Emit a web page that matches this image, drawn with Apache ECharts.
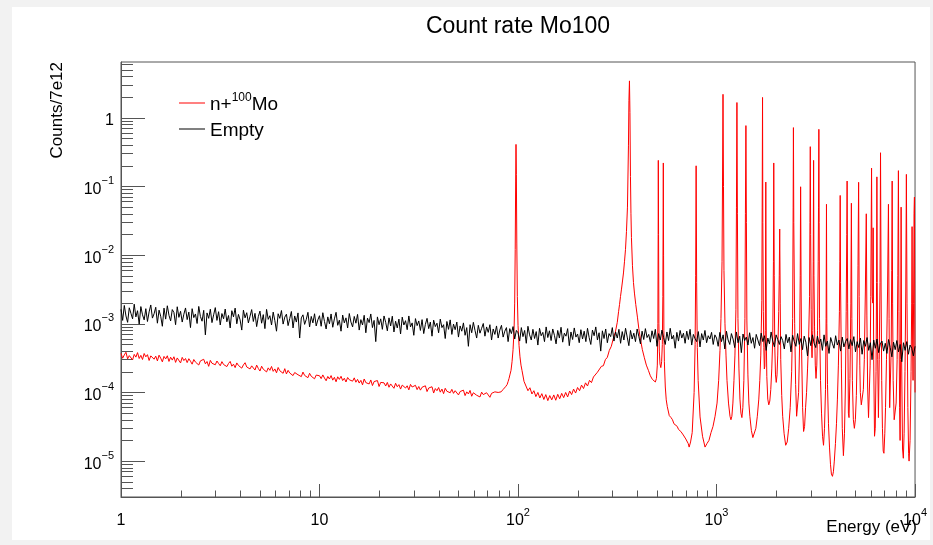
<!DOCTYPE html>
<html><head><meta charset="utf-8">
<script src="https://cdn.jsdelivr.net/npm/echarts@6/dist/echarts.min.js"></script>
<style>
html,body{margin:0;padding:0;background:#f2f2f2;width:933px;height:545px;overflow:hidden}
#c{position:absolute;left:12px;top:7px;width:918px;height:533px;background:#fff}
</style></head><body><div id="c"></div>
<script>
// ---------- text ----------
const titleText = 'Count rate Mo100';
const xTitle = 'Energy (eV)';
const yTitle = 'Counts/7e12';
const seriesNames = ['n+100Mo', 'Empty'];

// ---------- axes ----------
const xRange = [1, 10000];
const yRange = [3.0e-6, 6.5];
const xMajorTicks = [1, 10, 100, 1000, 10000];
const yMajorTicks = [1e-5, 1e-4, 1e-3, 1e-2, 1e-1, 1];
const minorMultipliers = [2, 3, 4, 5, 6, 7, 8, 9];

// ---------- data ----------
// "Empty": 120 bins per decade from 1 eV, bins 0..480 (1 eV .. 10 keV)
const emptyBinsPerDecade = 120;
const emptyRate = [
1.62e-3,1.12e-3,1.85e-3,1.30e-3,1.05e-3,1.71e-3,1.42e-3,1.18e-3,1.93e-3,1.26e-3,1.55e-3,0.99e-3,1.78e-3,1.35e-3,1.14e-3,1.66e-3,1.08e-3,1.49e-3,1.88e-3,1.21e-3,
1.40e-3,1.74e-3,1.02e-3,1.58e-3,1.29e-3,0.92e-3,1.69e-3,1.17e-3,1.83e-3,1.33e-3,1.10e-3,1.61e-3,1.46e-3,0.97e-3,1.77e-3,1.24e-3,1.52e-3,1.06e-3,1.38e-3,1.70e-3,
1.15e-3,1.48e-3,0.88e-3,1.66e-3,1.23e-3,1.39e-3,1.01e-3,1.79e-3,1.28e-3,1.09e-3,1.57e-3,0.69e-3,1.44e-3,1.20e-3,1.63e-3,1.04e-3,1.35e-3,1.72e-3,1.12e-3,1.50e-3,
0.96e-3,1.41e-3,1.18e-3,1.64e-3,1.07e-3,1.32e-3,0.87e-3,1.55e-3,1.26e-3,1.69e-3,1.00e-3,1.37e-3,1.14e-3,0.81e-3,1.58e-3,1.22e-3,1.45e-3,1.03e-3,1.29e-3,1.61e-3,
1.08e-3,1.42e-3,0.91e-3,1.27e-3,1.53e-3,1.02e-3,1.36e-3,0.85e-3,1.62e-3,1.16e-3,1.31e-3,0.96e-3,1.48e-3,1.11e-3,0.78e-3,1.40e-3,1.20e-3,1.56e-3,0.99e-3,1.25e-3,
1.38e-3,0.94e-3,1.19e-3,1.51e-3,0.87e-3,1.30e-3,1.06e-3,1.44e-3,0.62e-3,1.22e-3,1.35e-3,0.98e-3,1.16e-3,1.47e-3,0.90e-3,1.28e-3,1.03e-3,1.40e-3,0.93e-3,1.14e-3,
1.31e-3,0.92e-3,1.45e-3,1.08e-3,0.84e-3,1.26e-3,1.00e-3,1.39e-3,0.89e-3,1.18e-3,1.47e-3,0.95e-3,1.13e-3,0.78e-3,1.34e-3,1.03e-3,1.22e-3,0.87e-3,1.41e-3,1.06e-3,
0.90e-3,1.28e-3,1.02e-3,1.37e-3,0.81e-3,1.15e-3,0.96e-3,1.33e-3,0.74e-3,1.21e-3,1.04e-3,1.39e-3,0.88e-3,1.12e-3,0.55e-3,1.26e-3,0.97e-3,1.18e-3,0.83e-3,1.30e-3,
1.05e-3,0.79e-3,1.22e-3,0.93e-3,1.29e-3,0.76e-3,1.09e-3,0.87e-3,1.17e-3,0.71e-3,1.25e-3,0.96e-3,1.11e-3,0.82e-3,1.30e-3,0.90e-3,1.03e-3,0.68e-3,1.19e-3,0.94e-3,
1.10e-3,0.80e-3,1.15e-3,0.72e-3,0.98e-3,1.20e-3,0.85e-3,1.06e-3,0.66e-3,1.13e-3,0.91e-3,1.02e-3,0.74e-3,1.17e-3,0.88e-3,0.97e-3,0.61e-3,1.08e-3,0.83e-3,1.14e-3,
0.70e-3,0.99e-3,0.82e-3,1.06e-3,0.64e-3,0.93e-3,0.78e-3,1.03e-3,0.68e-3,0.88e-3,0.47e-3,0.97e-3,0.74e-3,1.05e-3,0.80e-3,0.62e-3,0.95e-3,0.73e-3,0.86e-3,1.01e-3,
0.66e-3,0.90e-3,0.75e-3,0.97e-3,0.58e-3,0.84e-3,0.70e-3,0.93e-3,0.62e-3,0.81e-3,0.95e-3,0.64e-3,0.78e-3,0.88e-3,0.55e-3,0.85e-3,0.72e-3,0.91e-3,0.60e-3,0.80e-3,
0.74e-3,0.56e-3,0.88e-3,0.65e-3,0.80e-3,0.52e-3,0.92e-3,0.69e-3,0.58e-3,0.83e-3,0.61e-3,0.77e-3,0.49e-3,0.86e-3,0.67e-3,0.75e-3,0.55e-3,0.90e-3,0.63e-3,0.79e-3,
0.57e-3,0.84e-3,0.68e-3,0.51e-3,0.80e-3,0.62e-3,0.89e-3,0.54e-3,0.73e-3,0.66e-3,0.85e-3,0.48e-3,0.76e-3,0.59e-3,0.87e-3,0.64e-3,0.71e-3,0.53e-3,0.82e-3,0.60e-3,
0.78e-3,0.55e-3,0.86e-3,0.63e-3,0.50e-3,0.81e-3,0.67e-3,0.90e-3,0.58e-3,0.74e-3,0.40e-3,0.79e-3,0.61e-3,0.84e-3,0.53e-3,0.72e-3,0.65e-3,0.88e-3,0.56e-3,0.76e-3,
0.62e-3,0.83e-3,0.52e-3,0.77e-3,0.58e-3,0.86e-3,0.64e-3,0.48e-3,0.80e-3,0.60e-3,0.73e-3,0.55e-3,0.84e-3,0.66e-3,0.51e-3,0.78e-3,0.59e-3,0.85e-3,0.63e-3,0.70e-3,
0.54e-3,0.79e-3,0.61e-3,0.83e-3,0.47e-3,0.72e-3,0.58e-3,0.81e-3,0.63e-3,0.50e-3,0.76e-3,0.57e-3,0.86e-3,0.60e-3,0.68e-3,0.44e-3,0.75e-3,0.56e-3,0.80e-3,0.62e-3,
0.73e-3,0.52e-3,0.78e-3,0.59e-3,0.83e-3,0.49e-3,0.70e-3,0.61e-3,0.55e-3,0.77e-3,0.46e-3,0.72e-3,0.58e-3,0.80e-3,0.53e-3,0.67e-3,0.60e-3,0.75e-3,0.50e-3,0.69e-3,
0.62e-3,0.47e-3,0.75e-3,0.55e-3,0.69e-3,0.43e-3,0.78e-3,0.58e-3,0.50e-3,0.72e-3,0.60e-3,0.45e-3,0.76e-3,0.53e-3,0.66e-3,0.38e-3,0.71e-3,0.57e-3,0.64e-3,0.49e-3,
0.74e-3,0.52e-3,0.63e-3,0.44e-3,0.70e-3,0.58e-3,0.48e-3,0.73e-3,0.55e-3,0.67e-3,0.41e-3,0.62e-3,0.51e-3,0.76e-3,0.56e-3,0.46e-3,0.69e-3,0.59e-3,0.50e-3,0.65e-3,
0.57e-3,0.43e-3,0.70e-3,0.53e-3,0.64e-3,0.39e-3,0.68e-3,0.55e-3,0.47e-3,0.72e-3,0.50e-3,0.61e-3,0.42e-3,0.66e-3,0.54e-3,0.34e-3,0.63e-3,0.48e-3,0.69e-3,0.52e-3,
0.45e-3,0.66e-3,0.51e-3,0.60e-3,0.41e-3,0.69e-3,0.47e-3,0.56e-3,0.37e-3,0.63e-3,0.52e-3,0.44e-3,0.67e-3,0.49e-3,0.58e-3,0.40e-3,0.64e-3,0.46e-3,0.55e-3,0.61e-3,
0.43e-3,0.59e-3,0.48e-3,0.65e-3,0.39e-3,0.55e-3,0.45e-3,0.62e-3,0.36e-3,0.57e-3,0.47e-3,0.63e-3,0.41e-3,0.53e-3,0.30e-3,0.58e-3,0.44e-3,0.60e-3,0.38e-3,0.51e-3,
0.56e-3,0.40e-3,0.52e-3,0.37e-3,0.59e-3,0.45e-3,0.33e-3,0.54e-3,0.42e-3,0.57e-3,0.39e-3,0.50e-3,0.28e-3,0.53e-3,0.41e-3,0.55e-3,0.36e-3,0.49e-3,0.44e-3,0.34e-3,0.47e-3
];

// n+100Mo: 120 bins per decade from 1 eV, bins 0..228 (1 eV .. ~80 eV)
const moBinsPerDecade = 120;
const moLowRate = [
3.70e-4,3.15e-4,3.52e-4,3.85e-4,3.08e-4,3.44e-4,3.66e-4,2.98e-4,3.58e-4,3.27e-4,3.80e-4,3.12e-4,3.47e-4,3.02e-4,3.69e-4,3.30e-4,3.55e-4,2.92e-4,3.41e-4,3.63e-4,
3.05e-4,3.38e-4,2.88e-4,3.49e-4,3.16e-4,2.79e-4,3.35e-4,3.08e-4,3.42e-4,2.83e-4,3.26e-4,2.96e-4,3.31e-4,2.74e-4,3.18e-4,3.02e-4,2.69e-4,3.24e-4,2.91e-4,3.12e-4,
2.72e-4,3.10e-4,2.85e-4,2.58e-4,3.02e-4,2.77e-4,2.95e-4,2.51e-4,2.88e-4,2.70e-4,3.04e-4,2.61e-4,2.82e-4,2.40e-4,2.93e-4,2.66e-4,2.79e-4,2.53e-4,2.87e-4,2.64e-4,
2.45e-4,2.81e-4,2.55e-4,2.72e-4,2.38e-4,2.64e-4,2.83e-4,2.41e-4,2.58e-4,2.30e-4,2.69e-4,2.47e-4,2.60e-4,2.26e-4,2.52e-4,2.71e-4,2.35e-4,2.49e-4,2.20e-4,2.44e-4,
2.36e-4,2.12e-4,2.50e-4,2.24e-4,2.05e-4,2.41e-4,2.18e-4,2.33e-4,1.99e-4,2.28e-4,2.10e-4,2.39e-4,2.03e-4,2.20e-4,1.93e-4,2.31e-4,2.07e-4,2.15e-4,1.90e-4,2.22e-4,
1.86e-4,2.10e-4,1.92e-4,2.02e-4,1.76e-4,1.95e-4,2.08e-4,1.81e-4,1.89e-4,1.70e-4,1.98e-4,1.77e-4,1.85e-4,1.64e-4,1.90e-4,1.72e-4,1.81e-4,1.58e-4,1.79e-4,1.68e-4,
1.75e-4,1.59e-4,1.80e-4,1.62e-4,1.48e-4,1.71e-4,1.57e-4,1.76e-4,1.51e-4,1.66e-4,1.43e-4,1.69e-4,1.55e-4,1.72e-4,1.49e-4,1.61e-4,1.42e-4,1.65e-4,1.53e-4,1.58e-4,
1.46e-4,1.63e-4,1.41e-4,1.55e-4,1.37e-4,1.50e-4,1.29e-4,1.57e-4,1.39e-4,1.47e-4,1.33e-4,1.52e-4,1.26e-4,1.44e-4,1.35e-4,1.49e-4,1.22e-4,1.40e-4,1.31e-4,1.38e-4,
1.24e-4,1.40e-4,1.19e-4,1.33e-4,1.27e-4,1.15e-4,1.36e-4,1.21e-4,1.30e-4,1.12e-4,1.28e-4,1.34e-4,1.16e-4,1.25e-4,1.09e-4,1.31e-4,1.20e-4,1.14e-4,1.27e-4,1.10e-4,
1.22e-4,1.08e-4,1.19e-4,1.13e-4,1.25e-4,1.03e-4,1.16e-4,1.10e-4,1.21e-4,0.98e-4,1.14e-4,1.06e-4,1.18e-4,1.01e-4,1.12e-4,0.96e-4,1.15e-4,1.04e-4,1.09e-4,0.99e-4,
1.11e-4,0.97e-4,1.06e-4,1.13e-4,0.92e-4,1.03e-4,0.98e-4,1.08e-4,0.90e-4,1.02e-4,0.95e-4,1.07e-4,0.88e-4,0.99e-4,1.04e-4,0.91e-4,0.97e-4,0.86e-4,1.01e-4,0.93e-4,
0.89e-4,0.99e-4,0.92e-4,0.85e-4,0.97e-4,0.93e-4,1.02e-4,0.96e-4,1.00e-4
];

// n+100Mo resonance region: [energy (eV), rate]
const moResonancePts = [
[82.2,1.02e-4],[84.0,1.10e-4],[85.1,1.06e-4],[86.5,1.21e-4],[88.1,1.30e-4],[89.2,1.45e-4],[90.1,1.60e-4],[91.2,1.85e-4],[92.2,2.1e-4],[93.3,2.8e-4],[94.4,4.2e-4],[95.5,8.0e-4],[96.2,2.0e-3],[96.8,1.2e-2],[97.3,0.12],[97.7,0.41],[98.1,0.15],[98.6,1.5e-2],[99.2,2.5e-3],[100,9.5e-4],[101.2,4.8e-4],[102.3,3.3e-4],[103.5,2.5e-4],
[104.7,2.1e-4],[107.2,1.45e-4],[109.6,1.38e-4],[112.2,1.06e-4],[114.8,1.17e-4],[117.5,0.95e-4],[120.2,1.06e-4],[123.0,0.87e-4],[125.9,1.0e-4],[128.8,0.83e-4],[131.8,0.96e-4],[134.9,0.79e-4],[138.0,0.93e-4],[141.3,0.76e-4],[144.5,0.90e-4],[147.9,0.78e-4],[151.4,0.92e-4],[154.9,0.77e-4],[158.5,0.94e-4],[162.2,0.81e-4],[166.0,0.97e-4],[169.8,0.84e-4],[173.8,1.0e-4],[177.8,0.86e-4],[182.0,1.05e-4],[186.2,0.93e-4],[190.5,1.12e-4],[195.0,0.98e-4],[199.5,1.18e-4],[204.2,1.06e-4],[208.9,1.28e-4],[213.8,1.14e-4],[218.8,1.38e-4],[223.9,1.24e-4],[229.1,1.50e-4],[234.4,1.39e-4],[239.9,1.68e-4],[245.5,1.60e-4],[251.2,1.97e-4],[257.0,1.94e-4],[263.0,2.40e-4],[269.2,2.45e-4],[275.4,3.0e-4],[281.8,3.25e-4],[288.4,4.1e-4],[295.1,4.7e-4],[302.0,6.1e-4],[309.0,7.5e-4],[316.2,1.05e-3],
[321,1.5e-3],[324.6,1.9e-3],[328.3,2.5e-3],[332.1,3.2e-3],[336,4.2e-3],[339.8,5.5e-3],[343.8,8e-3],[347.8,1.2e-2],[351.8,2.2e-2],[355.9,5e-2],[360.0,0.4],[362.0,1.8],[364.2,3.45],[366.3,1.2],[368.5,0.14],[370.6,4e-2],[372.7,1.8e-2],[377.1,7e-3],[381.5,4e-3],[385.9,2.8e-3],[392,1.9e-3],[399.5,1.25e-3],[406,8.5e-4],[413.5,6e-4],[423,4.2e-4],[433,3.2e-4],[443,2.5e-4],[453.6,2.1e-4],[464,1.75e-4],[475.1,1.55e-4],[483,1.45e-4],[491.8,1.42e-4],[498,1.6e-4],[503.2,2.5e-4],[506.5,1e-3],[508,2e-2],[509.0,0.24],[510.5,2e-2],[512.5,1e-3],[515.0,4e-4],[519,2.6e-4],[524.0,2.3e-4],[529,2.8e-4],[533.2,5e-4],[536.5,2.5e-3],[538.5,5e-2],[539.4,0.22],[541,1e-2],[543,8e-4],[546,2.8e-4],[552,1.2e-4],[558,7.8e-5],[565,6.2e-5],[578,4.6e-5],[590,4.3e-5],[600,4e-5],[610,3.5e-5],[620,3.4e-5],[634,3.2e-5],[643,2.9e-5],[652,3.1e-5],[661,2.7e-5],[670,2.8e-5],[680,2.4e-5],[690,2.5e-5],[700,2.1e-5],[711,2.2e-5],[720,1.8e-5],[728,1.6e-5],[740,1.9e-5],[754,2.6e-5],[771,1.0e-4],[780,5e-4],[785,5e-3],[789.3,0.2],[794,4e-3],[800,4.5e-4],[808,1.5e-4],[826,4.4e-5],[850,2.3e-5],[875,1.6e-5],[895,1.8e-5],[916,2e-5],[938,2.6e-5],[960,3.2e-5],[983,4.5e-5],[1006,7e-5],[1025,1.5e-4],[1041,4.1e-4],[1053,1.2e-3],[1066,8e-3],[1072,0.12],[1078,2.2],[1084,0.1],[1090,6e-3],[1103,1e-3],[1116,3.5e-4],[1129,1.5e-4],[1149,7e-5],[1169,4.5e-5],[1182,4e-5],[1195,4.5e-5],[1209,7e-5],[1224,1.5e-4],[1238,3.5e-4],[1252,1.6e-3],[1260,5e-2],[1267,1.67],[1274,4e-2],[1282,1.2e-3],[1297,2.2e-4],[1312,8e-5],[1327,5e-5],[1342,4.3e-5],[1357,6e-5],[1373,1.5e-4],[1390,1.2e-3],[1398,4e-2],[1406,0.77],[1414,3e-2],[1422,1.1e-3],[1439,1.8e-4],[1455,7e-5],[1472,4.5e-5],[1498,2.8e-5],[1524,2.2e-5],[1551,2.3e-5],[1578,3e-5],[1605,4.5e-5],[1633,8e-5],[1652,1.5e-4],[1671,3.5e-4],[1691,2.2e-3],[1698,5e-2],[1705,1.98],[1711,3e-2],[1721,1.5e-3],[1731,4.5e-4],[1741,2.2e-4],[1751,2.4e-4],[1761,8e-4],[1771,0.116],[1781,6e-4],[1792,1.7e-4],[1812,8e-5],[1833,6.6e-5],[1855,7.5e-5],[1876,1.1e-4],[1898,2.2e-4],[1919,6e-4],[1935,8e-3],[1942,0.22],[1953,5e-3],[1964,5e-4],[1982,1.8e-4],[1999,1.4e-4],[2017,1.8e-4],[2034,3.5e-4],[2057,1.5e-3],[2070,5e-3],[2081,0.024],[2094,2e-3],[2106,3e-4],[2130,9e-5],[2154,4.5e-5],[2190,2.5e-5],[2230,1.7e-5],[2270,1.9e-5],[2309,3e-5],[2350,6e-5],[2390,2e-4],[2418,1.2e-3],[2432,5e-2],[2440,0.72],[2450,3e-2],[2475,1e-3],[2503,1.3e-4],[2532,4.5e-5],[2561,4.8e-5],[2591,1e-4],[2621,5e-4],[2640,5e-3],[2652,0.099],[2668,3e-3],[2683,4e-4],[2714,6e-5],[2745,2.7e-5],[2777,3.2e-5],[2809,6e-5],[2841,1e-4],[2874,2.2e-4],[2908,5.5e-4],[2942,2.5e-3],[2955,3e-2],[2967,0.38],[2980,2e-2],[2998,1.6e-3],[3010,5e-4],[3028,3.2e-4],[3055,8e-4],[3070,8e-3],[3083,0.24],[3095,5e-3],[3117,9e-4],[3144,2.5e-4],[3171,1.6e-4],[3200,2.5e-4],[3227,8e-4],[3252,8e-3],[3264,5e-2],[3277,0.68],[3289,3e-2],[3302,1.2e-3],[3340,1.5e-4],[3380,5e-5],[3420,2.3e-5],[3459,1.7e-5],[3499,3e-5],[3539,1.1e-4],[3565,1.2e-3],[3580,0.055],[3594,1e-3],[3622,1.3e-4],[3664,3.5e-5],[3707,1.6e-5],[3750,9e-6],[3790,6.5e-6],[3837,6e-6],[3880,7e-6],[3920,1e-5],[3972,1.8e-5],[4020,3.5e-5],[4064,8e-5],[4110,2.5e-4],[4159,1.5e-3],[4180,8e-3],[4197,0.074],[4215,4e-3],[4257,2.2e-4],[4300,3e-5],[4357,1.2e-5],[4410,2.5e-5],[4458,1.2e-4],[4500,1.5e-3],[4530,2e-2],[4548,0.12],[4575,2e-3],[4616,5e-5],[4650,4.3e-5],[4700,1.6e-4],[4750,2e-3],[4779,0.057],[4806,1.2e-3],[4834,1.5e-4],[4890,4e-5],[4947,3e-5],[5005,4e-5],[5062,9e-5],[5120,5e-4],[5160,7e-3],[5197,0.115],[5230,2.5e-3],[5270,2.5e-4],[5301,1e-4],[5362,6.6e-5],[5424,6.5e-5],[5490,1.1e-4],[5551,3e-4],[5620,3e-3],[5681,0.04],[5720,1.3e-3],[5770,1.2e-4],[5830,4.3e-5],[5880,4.5e-5],[5940,2.5e-4],[5983,2.5e-3],[6038,0.185],[6080,2.5e-3],[6124,2e-3],[6152,0.025],[6190,3e-4],[6250,2.3e-5],[6302,3e-5],[6360,2e-4],[6400,4e-3],[6425,0.138],[6450,4e-3],[6486,3e-4],[6540,4.3e-5],[6600,3e-4],[6660,4e-3],[6700,0.31],[6745,3e-3],[6794,1.5e-4],[6850,3e-5],[6913,1.4e-5],[6970,1.3e-5],[7040,2.5e-5],[7100,6e-5],[7180,3e-4],[7270,3e-3],[7346,0.055],[7400,1.2e-3],[7451,6e-5],[7510,6e-5],[7581,4e-4],[7630,6e-3],[7669,0.12],[7710,2e-3],[7758,1.5e-4],[7850,4e-5],[7935,3.8e-5],[8030,7e-5],[8123,3e-4],[8190,5e-3],[8246,0.17],[8300,1.5e-3],[8360,6e-5],[8409,2e-5],[8460,3e-4],[8508,0.05],[8560,3e-4],[8650,1.5e-5],[8730,1.1e-5],[8809,2.5e-5],[8900,2e-4],[8980,3e-3],[9045,0.15],[9110,2e-3],[9200,6e-5],[9280,1.3e-5],[9331,1e-5],[9440,2e-5],[9548,2e-4],[9620,2e-3],[9661,0.026],[9720,6e-4],[9772,1.5e-4],[9830,2e-3],[9886,0.04],[9930,0.07],[9965,2e-3],[10000,1e-4]
];

// ---------- build ----------
const FONT = '"Liberation Sans", Arial, Helvetica, sans-serif';
const emptyData = emptyRate.map((v, i) => [Math.pow(10, i / emptyBinsPerDecade), v]);
const moData = moLowRate.map((v, i) => [Math.pow(10, i / moBinsPerDecade), v]).concat(moResonancePts);

function minorsOf(majors, lo, hi) {
  const out = [];
  majors.concat([majors[0] / 10]).forEach(d => minorMultipliers.forEach(m => {
    const v = m * d; if (v > lo && v < hi) out.push(v);
  }));
  return out;
}
const xMinorTicks = minorsOf(xMajorTicks, xRange[0], xRange[1]);
const yMinorTicks = minorsOf(yMajorTicks, yRange[0], yRange[1]);

function powLabel(v) {
  const e = Math.round(Math.log10(v));
  if (e === 0) return '{b|1}';
  if (e === 1) return '{b|10}';
  return '{b|10}{sup|' + (e < 0 ? '\u2212' + (-e) : e) + '}';
}
const labelRich = {
  b: { fontSize: 16, lineHeight: 22, fontFamily: FONT, color: '#000', verticalAlign: 'bottom' },
  sup: { fontSize: 11, lineHeight: 10, fontFamily: FONT, color: '#000', verticalAlign: 'top' }
};
const AX = '#555';

const chart = echarts.init(document.getElementById('c'), null, { renderer: 'canvas' });
const option = {
  animation: false,
  backgroundColor: '#fff',
  grid: { left: 109, right: 11, top: 55, bottom: 43, show: true, borderColor: AX, borderWidth: 1, backgroundColor: 'transparent' },
  xAxis: [
    { type: 'log', logBase: 10, min: xRange[0], max: xRange[1], position: 'bottom',
      axisLine: { show: true, lineStyle: { color: AX, width: 1 } },
      axisTick: { show: true, inside: true, length: 13, customValues: xMajorTicks, lineStyle: { color: AX } },
      axisLabel: { show: true, customValues: xMajorTicks, margin: 10, formatter: powLabel, rich: labelRich },
      splitLine: { show: false }, minorTick: { show: false } },
    { type: 'log', logBase: 10, min: xRange[0], max: xRange[1], position: 'bottom',
      axisLine: { show: false },
      axisTick: { show: true, inside: true, length: 6.5, customValues: xMinorTicks, lineStyle: { color: AX } },
      axisLabel: { show: false }, splitLine: { show: false } }
  ],
  yAxis: [
    { type: 'log', logBase: 10, min: yRange[0], max: yRange[1], position: 'left',
      axisLine: { show: true, lineStyle: { color: AX, width: 1 } },
      axisTick: { show: true, inside: true, length: 24, customValues: yMajorTicks, lineStyle: { color: AX } },
      axisLabel: { show: true, customValues: yMajorTicks, margin: 7, formatter: powLabel, rich: labelRich },
      splitLine: { show: false } },
    { type: 'log', logBase: 10, min: yRange[0], max: yRange[1], position: 'left',
      axisLine: { show: false },
      axisTick: { show: true, inside: true, length: 12, customValues: yMinorTicks, lineStyle: { color: AX } },
      axisLabel: { show: false }, splitLine: { show: false } }
  ],
  legend: {
    data: seriesNames, left: 167, top: 85, orient: 'vertical', padding: 0,
    itemWidth: 26, itemHeight: 1, itemGap: 7, icon: 'rect',
    formatter: n => n === seriesNames[0] ? '{b|n+}{sup|100}{b|Mo}' : '{b|' + n + '}',
    textStyle: { fontSize: 19, fontFamily: FONT, color: '#000',
      rich: { b: { fontSize: 19, lineHeight: 22, fontFamily: FONT, color: '#000', verticalAlign: 'bottom' },
              sup: { fontSize: 12, lineHeight: 10, fontFamily: FONT, color: '#000', verticalAlign: 'top' } } }
  },
  graphic: [
    { type: 'text', x: 506, y: 20, style: { text: titleText, fontSize: 23, fontFamily: FONT, fill: '#000', align: 'center', verticalAlign: 'middle' } },
    { type: 'text', x: 905, y: 520, style: { text: xTitle, fontSize: 17, fontFamily: FONT, fill: '#000', align: 'right', verticalAlign: 'middle' } },
    { type: 'text', x: 45, y: 55, rotation: Math.PI / 2, style: { text: yTitle, fontSize: 17, fontFamily: FONT, fill: '#000', align: 'right', verticalAlign: 'middle' } }
  ],
  series: [
    { name: seriesNames[0], type: 'line', data: moData, xAxisIndex: 0, yAxisIndex: 0,
      showSymbol: false, symbol: 'none', color: '#ff0000', lineStyle: { color: '#ff0000', width: 1 }, z: 2 },
    { name: seriesNames[1], type: 'line', data: emptyData, xAxisIndex: 0, yAxisIndex: 0,
      showSymbol: false, symbol: 'none', color: '#000000', lineStyle: { color: '#000000', width: 1 }, z: 3 }
  ]
};
chart.setOption(option);
</script></body></html>
